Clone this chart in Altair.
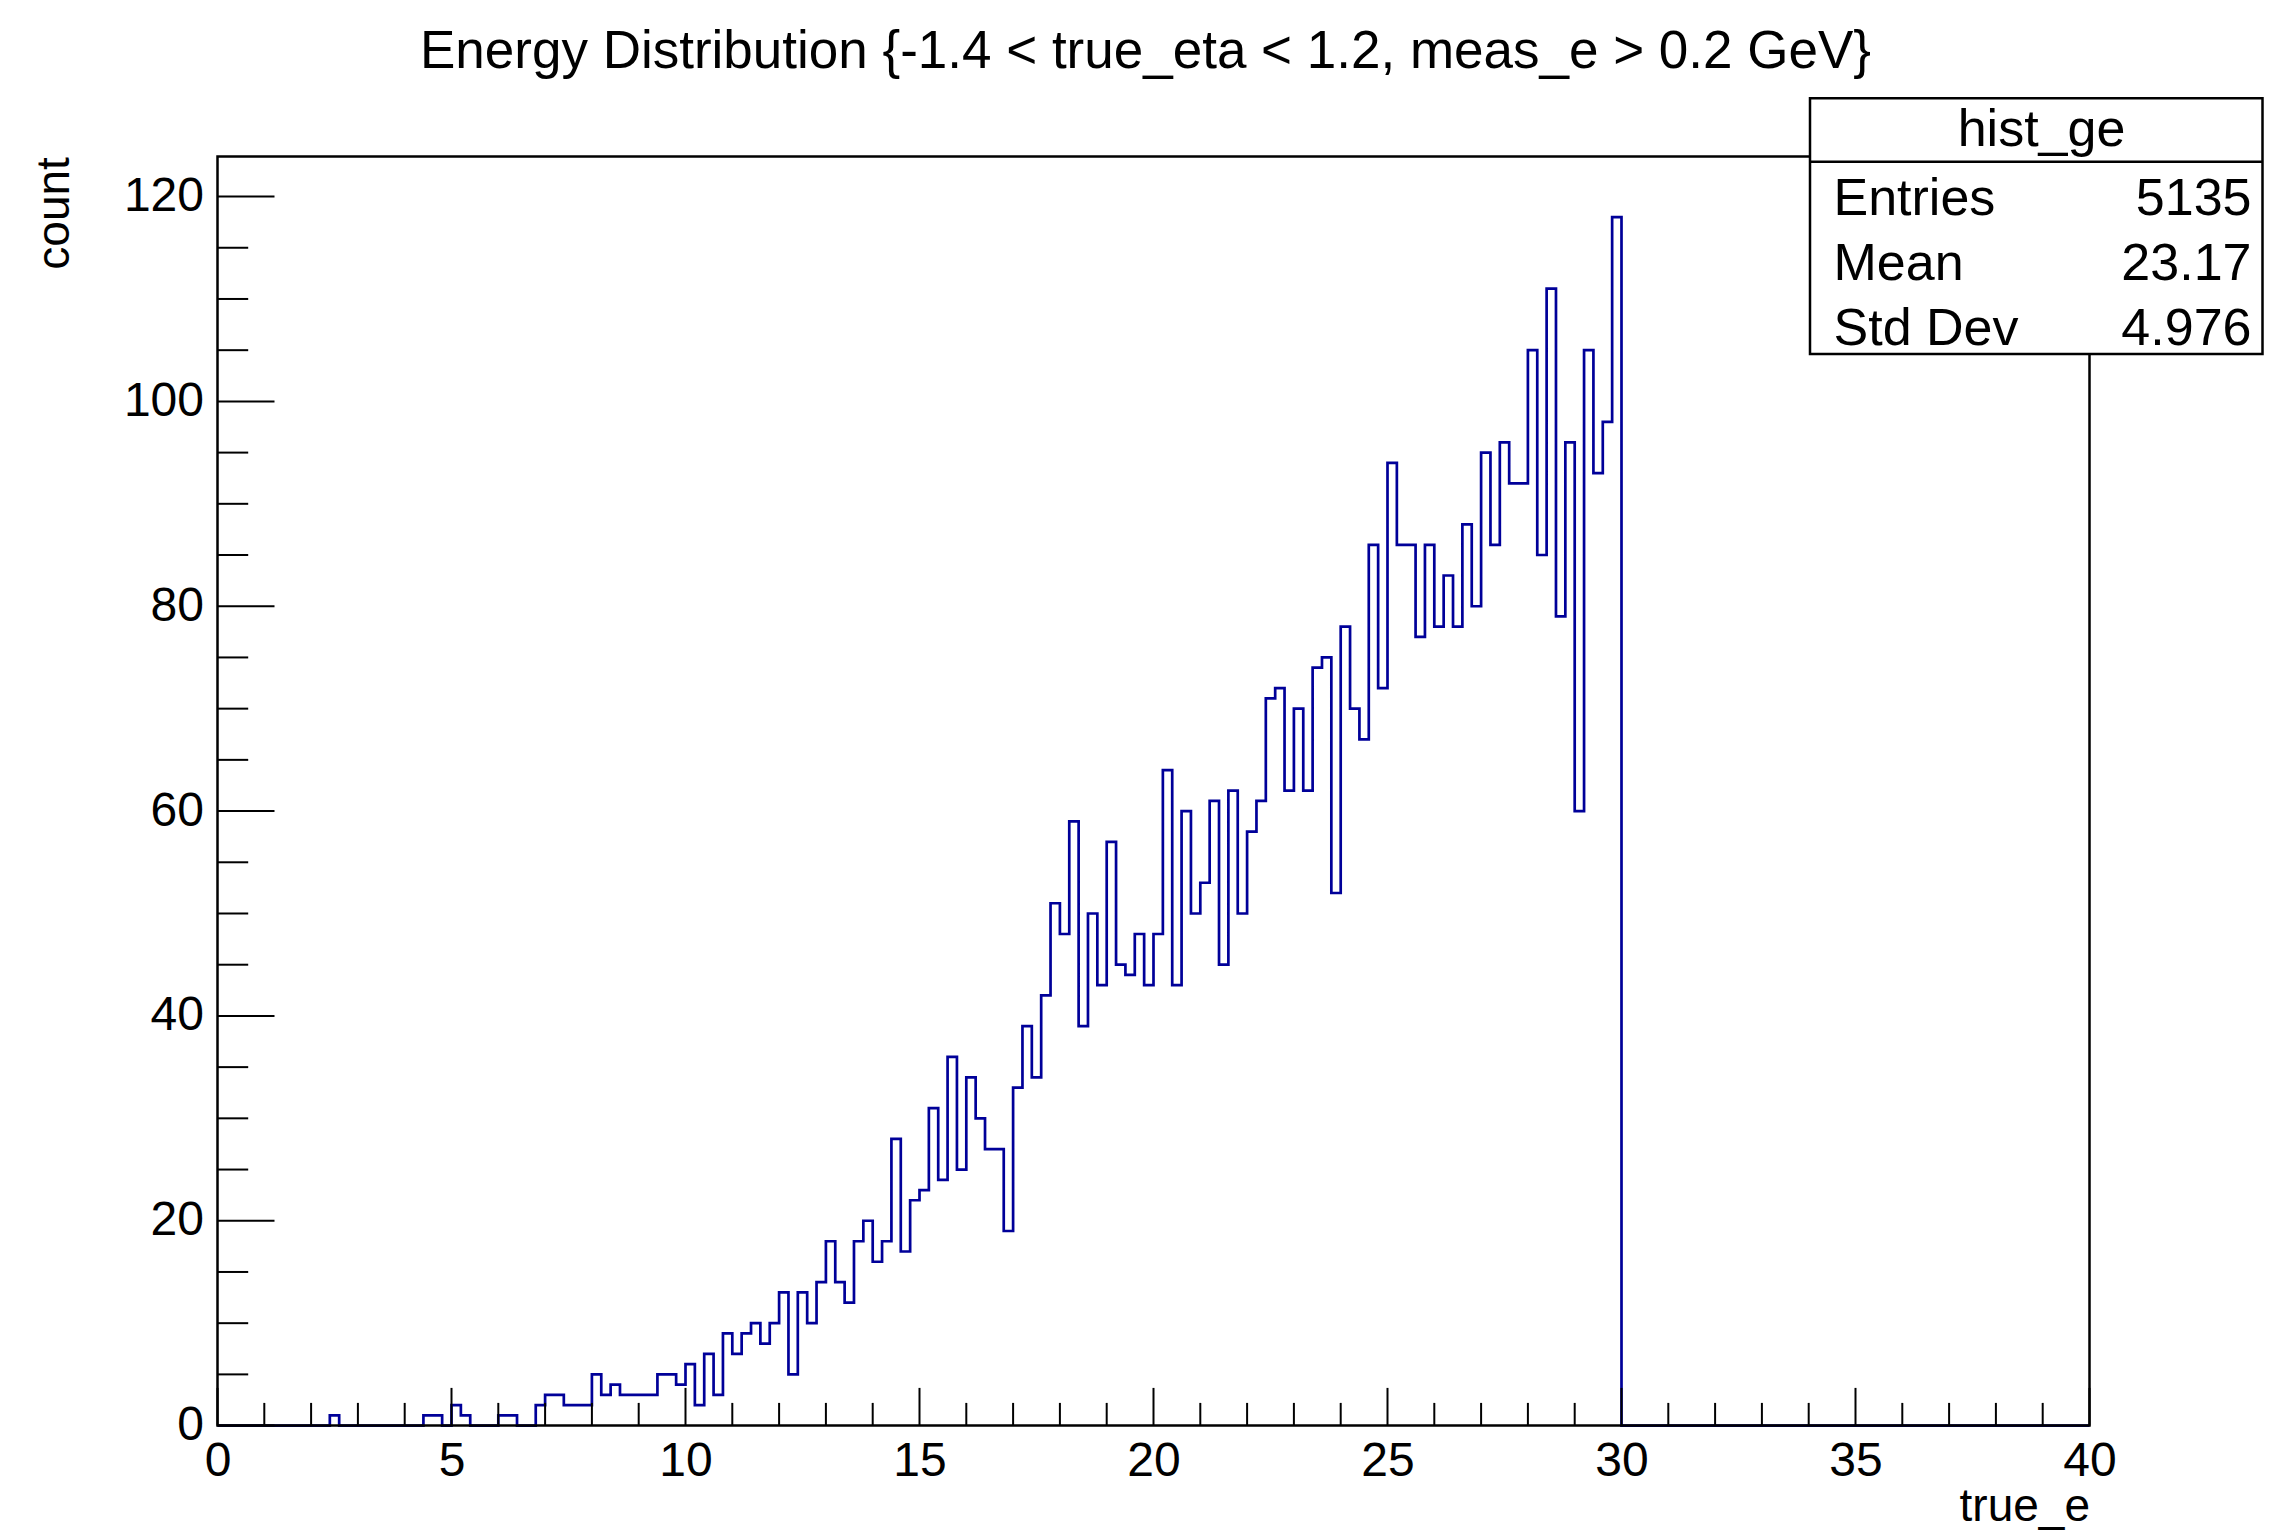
import altair as alt
import pandas as pd

# ---------------- data ----------------
BIN_WIDTH = 0.2
X_MIN, X_MAX = 0.0, 40.0
Y_MAX = 123.9

# counts per 0.2-wide bin, one row of five bins per unit of true_e (0 .. 40)
counts = [
    0, 0, 0, 0, 0,        # 0
    0, 0, 0, 0, 0,        # 1
    0, 0, 1, 0, 0,        # 2
    0, 0, 0, 0, 0,        # 3
    0, 0, 1, 1, 0,        # 4
    2, 1, 0, 0, 0,        # 5
    1, 1, 0, 0, 2,        # 6
    3, 3, 2, 2, 2,        # 7
    5, 3, 4, 3, 3,        # 8
    3, 3, 5, 5, 4,        # 9
    6, 2, 7, 3, 9,        # 10
    7, 9, 10, 8, 10,      # 11
    13, 5, 13, 10, 14,    # 12
    18, 14, 12, 18, 20,   # 13
    16, 18, 28, 17, 22,   # 14
    23, 31, 24, 36, 25,   # 15
    34, 30, 27, 27, 19,   # 16
    33, 39, 34, 42, 51,   # 17
    48, 59, 39, 50, 43,   # 18
    57, 45, 44, 48, 43,   # 19
    48, 64, 43, 60, 50,   # 20
    53, 61, 45, 62, 50,   # 21
    58, 61, 71, 72, 62,   # 22
    70, 62, 74, 75, 52,   # 23
    78, 70, 67, 86, 72,   # 24
    94, 86, 86, 77, 86,   # 25
    78, 83, 78, 88, 80,   # 26
    95, 86, 96, 92, 92,   # 27
    105, 85, 111, 79, 96, # 28
    60, 105, 93, 98, 118, # 29
    0, 0, 0, 0, 0,        # 30
    0, 0, 0, 0, 0,        # 31
    0, 0, 0, 0, 0,        # 32
    0, 0, 0, 0, 0,        # 33
    0, 0, 0, 0, 0,        # 34
    0, 0, 0, 0, 0,        # 35
    0, 0, 0, 0, 0,        # 36
    0, 0, 0, 0, 0,        # 37
    0, 0, 0, 0, 0,        # 38
    0, 0, 0, 0, 0,        # 39
]
bin_low = [round(i * BIN_WIDTH, 1) for i in range(len(counts))]

x_major = [0, 5, 10, 15, 20, 25, 30, 35, 40]
x_minor = [v for v in range(0, 41) if v % 5 != 0]
y_major = [0, 20, 40, 60, 80, 100, 120]
y_minor = [v for v in range(0, 121, 5) if v % 20 != 0]

title_text = "Energy Distribution {-1.4 < true_eta < 1.2, meas_e > 0.2 GeV}"
x_title = "true_e"
y_title = "count"
stats_name = "hist_ge"
stats_labels = ["Entries", "Mean", "Std Dev"]
stats_values = ["5135", "23.17", "4.976"]

# ---------------- layout ----------------
W, H = 1872, 1269
FONT = "Liberation Sans"
LINE = "#000099"

hist_df = pd.DataFrame({"x": bin_low + [X_MAX], "count": counts + [0]})
one = pd.DataFrame({"a": [0]})

xs = alt.Scale(domain=[X_MIN, X_MAX], nice=False, zero=False)
ys = alt.Scale(domain=[0, Y_MAX], nice=False, zero=True)

ax_x = alt.Axis(values=x_major, grid=False, domain=False, ticks=False,
                labelFont=FONT, labelFontSize=48, labelColor="black",
                labelPadding=12, labelFlush=False, labelOverlap=False,
                format="d", title=x_title, titleFont=FONT, titleFontSize=46,
                titleFontWeight="normal", titleColor="black",
                titleX=W, titleY=95, titleAlign="right", titleAnchor="end",
                titleBaseline="alphabetic")
ax_y = alt.Axis(values=y_major, grid=False, domain=False, ticks=False,
                labelFont=FONT, labelFontSize=48, labelColor="black",
                labelPadding=14, labelFlush=False, labelOverlap=False,
                format="d", title=y_title, titleFont=FONT, titleFontSize=46,
                titleFontWeight="normal", titleColor="black",
                titleX=-149, titleY=0, titleAlign="right", titleAnchor="end",
                titleAngle=270, titleBaseline="alphabetic")

hist = alt.Chart(hist_df).mark_line(
    interpolate="step-after", color=LINE, strokeWidth=2.7
).encode(
    x=alt.X("x:Q", scale=xs, axis=ax_x),
    y=alt.Y("count:Q", scale=ys, axis=ax_y),
)

frame = alt.Chart(one).mark_rect(
    fillOpacity=0, stroke="black", strokeWidth=2.5
).encode(x=alt.value(0), x2=alt.value(W), y=alt.value(0), y2=alt.value(H))

xmaj = alt.Chart(pd.DataFrame({"t": x_major})).mark_rule(color="black", strokeWidth=2).encode(
    x=alt.X("t:Q", scale=xs, axis=ax_x), y=alt.value(H), y2=alt.value(H - 37.7))
xmin = alt.Chart(pd.DataFrame({"t": x_minor})).mark_rule(color="black", strokeWidth=2).encode(
    x=alt.X("t:Q", scale=xs, axis=ax_x), y=alt.value(H), y2=alt.value(H - 22.7))
ymaj = alt.Chart(pd.DataFrame({"t": y_major})).mark_rule(color="black", strokeWidth=2).encode(
    y=alt.Y("t:Q", scale=ys, axis=ax_y), x=alt.value(0), x2=alt.value(57))
ymin = alt.Chart(pd.DataFrame({"t": y_minor})).mark_rule(color="black", strokeWidth=2).encode(
    y=alt.Y("t:Q", scale=ys, axis=ax_y), x=alt.value(0), x2=alt.value(30.7))

# stats box
BX0, BX1, BY0, BY1 = 1592.5, 2045, -58.3, 197.4
box = alt.Chart(one).mark_rect(fill="white", stroke="black", strokeWidth=2.5).encode(
    x=alt.value(BX0), x2=alt.value(BX1), y=alt.value(BY0), y2=alt.value(BY1))
sep = alt.Chart(one).mark_rule(color="black", strokeWidth=2.5).encode(
    x=alt.value(BX0), x2=alt.value(BX1), y=alt.value(5.1))

def txt(s, x, y, align, size=52):
    return alt.Chart(one).mark_text(
        text=s, font=FONT, fontSize=size, color="black",
        align=align, baseline="alphabetic"
    ).encode(x=alt.value(x), y=alt.value(y))

layers = [hist, frame, xmaj, xmin, ymaj, ymin, box, sep,
          txt(stats_name, 1824, -10.5, "center")]
row_y = [58.5, 123.5, 188]
for lab, val, yy in zip(stats_labels, stats_values, row_y):
    layers.append(txt(lab, 1616, yy, "left"))
    layers.append(txt(val, 2034, yy, "right"))
layers.append(txt(title_text, 928, -88.6, "center", size=53))

chart = alt.layer(*layers).properties(
    width=W, height=H,
    autosize=alt.AutoSizeParams(type="none"),
    padding={"left": 209.5, "top": 148.6, "right": 174.5, "bottom": 105.4},
    background="white",
).configure_view(strokeWidth=0)

chart.save("out.html", embed_options={"renderer": "svg", "actions": False})
